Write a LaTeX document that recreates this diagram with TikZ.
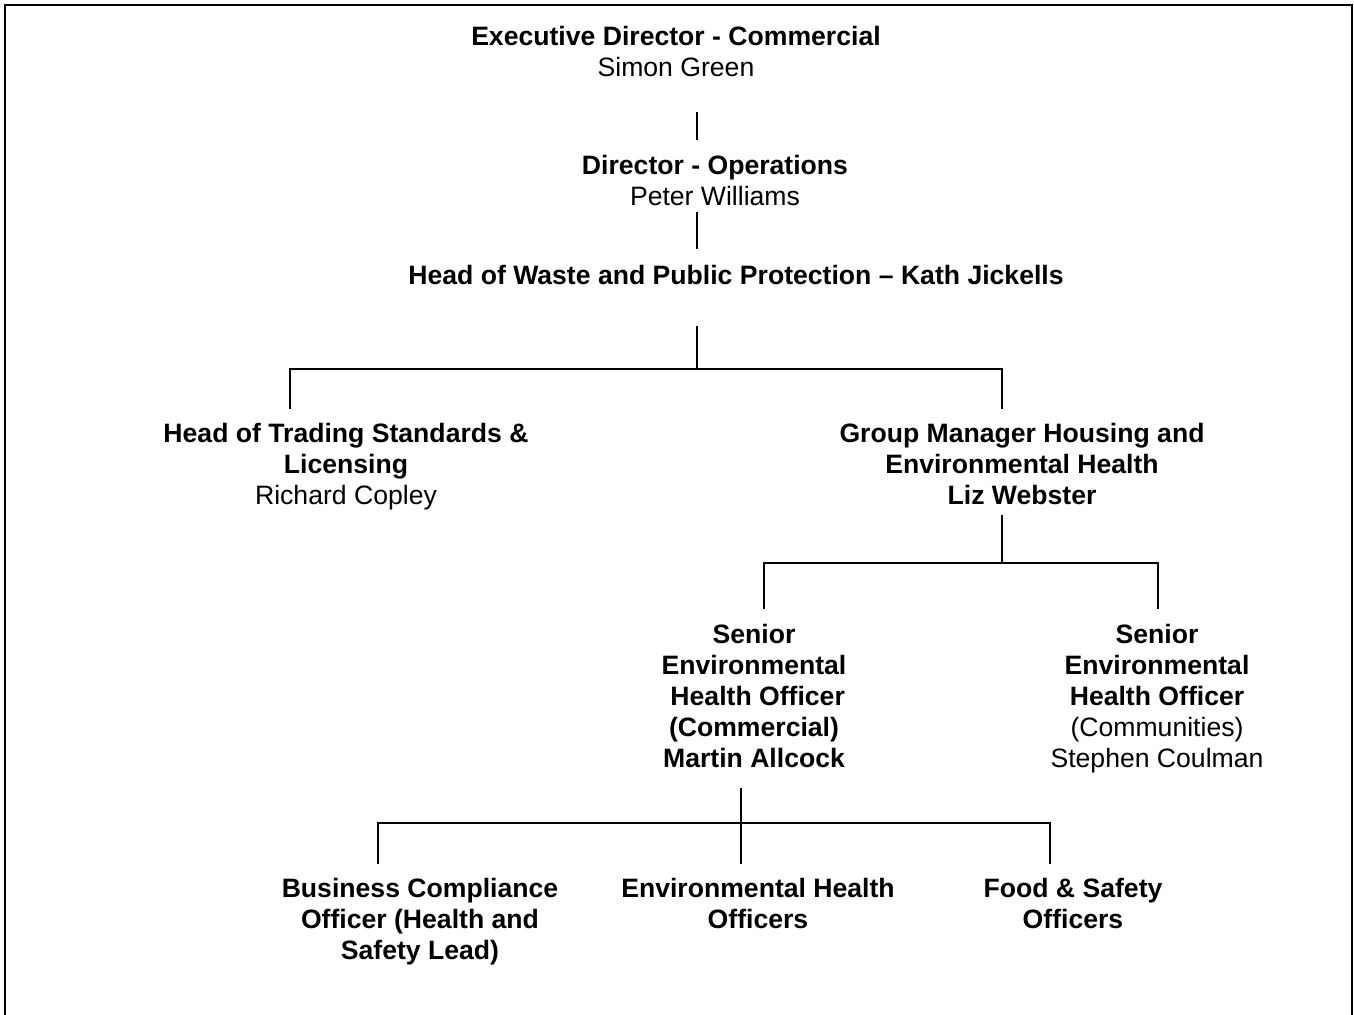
\documentclass[tikz,border=0pt]{standalone}
\usepackage{fontspec}
\setmainfont{Liberation Sans}
\usepackage{tikz}
\usetikzlibrary{positioning}

\begin{document}
\begin{tikzpicture}[
      x=0.5pt, y=-0.5pt,
      post/.style={align=center, inner sep=0pt, font=\fontsize{13.3}{15.5}\selectfont\bfseries},
      link/.style={line width=1pt, line cap=rect},
      frame/.style={line width=1.3pt}
    ]
    \useasboundingbox (0,0) rectangle (1354,1015);
    \draw[frame] (5,1016) -- (5,5) -- (1352,5) -- (1352,1016);

    % people
    \node[post] (exec) at (676,52) {Executive Director - Commercial\\\normalfont Simon Green};
    \node[post] (dirops) at (715,180) {Director - Operations\\\normalfont Peter Williams};
    \node[post] (headwpp) at (736,275) {Head of Waste and Public Protection -- Kath Jickells};
    \node[post] (tsl) at (346,467) {Head of Trading Standards \&\\Licensing\\\normalfont Richard Copley};
    \node[post] (gmhe) at (1022,464) {Group Manager Housing and\\Environmental Health\\Liz Webster};
    \node[post] (sehocom) at (754,696) {Senior\\Environmental\\\ Health Officer\\(Commercial)\\Martin Allcock};
    \node[post] (sehocty) at (1157,699) {Senior\\Environmental\\Health Officer\\\normalfont(Communities)\\\normalfont Stephen Coulman};
    \node[post] (bco) at (420,922) {Business Compliance\\Officer (Health and\\Safety Lead)};
    \node[post] (eho) at (758,903) {Environmental Health\\Officers};
    \node[post] (fso) at (1073,903) {Food \& Safety\\Officers};

    % junctions
    \coordinate (execdown) at (697,113);
    \coordinate (opsup) at (697,139);
    \coordinate (opsdown) at (697,213);
    \coordinate (headup) at (697,248);
    \coordinate (headdown) at (697,327);
    \coordinate (headbar) at (697,369);
    \coordinate (tslup) at (290,408);
    \coordinate (gmheup) at (1002,408);
    \coordinate (gmhedown) at (1002,516);
    \coordinate (gmhebar) at (1002,563);
    \coordinate (comup) at (764,608);
    \coordinate (ctyup) at (1158,608);
    \coordinate (comdown) at (741,789);
    \coordinate (combar) at (741,823);
    \coordinate (bcoup) at (378,863);
    \coordinate (ehoup) at (741,863);
    \coordinate (fsoup) at (1050,863);

    \draw[link] (execdown) -- (opsup);
    \draw[link] (opsdown) -- (headup);
    \draw[link] (headdown) -- (headbar);
    \draw[link] (tslup) |- (headbar) -| (gmheup);
    \draw[link] (gmhedown) -- (gmhebar);
    \draw[link] (comup) |- (gmhebar) -| (ctyup);
    \draw[link] (comdown) -- (ehoup);
    \draw[link] (bcoup) |- (combar) -| (fsoup);
  \end{tikzpicture}
\end{document}
